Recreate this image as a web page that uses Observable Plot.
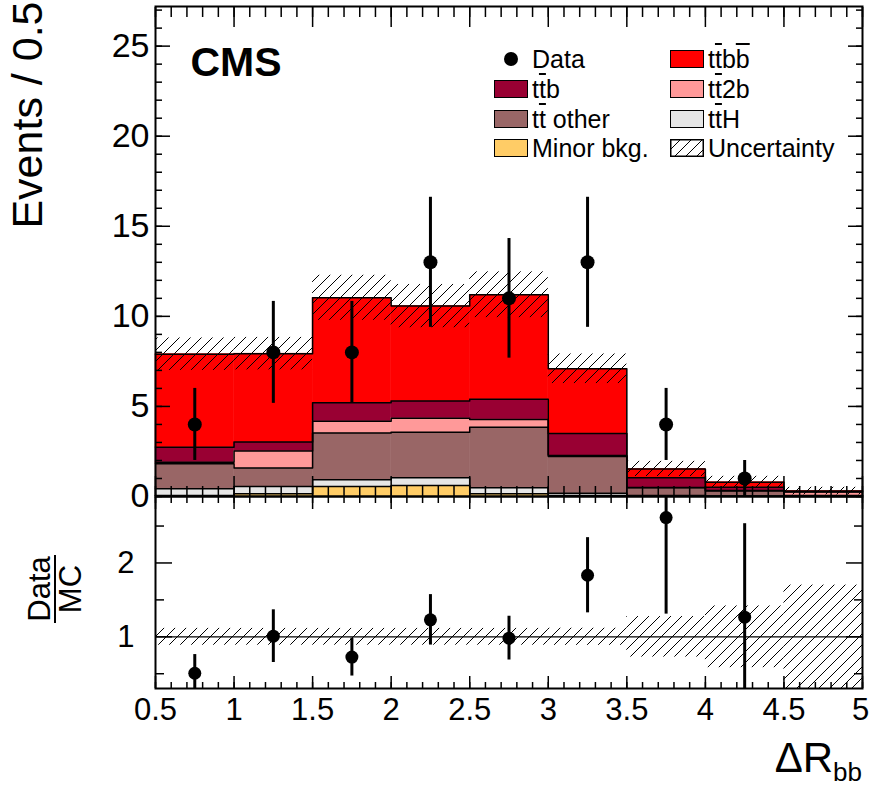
<!DOCTYPE html>
<html>
<head>
<meta charset="utf-8">
<script src="https://cdn.jsdelivr.net/npm/d3@7"></script>
<script src="https://cdn.jsdelivr.net/npm/@observablehq/plot@0.6"></script>
<style>
  body { margin: 0; background: #fff; font-family: "Liberation Sans", Arial, Helvetica, sans-serif; }
  #chart { position: relative; width: 869px; height: 791px; overflow: hidden; background: #fff; }
  #chart > svg { position: absolute; left: 0; }
  .lbl { position: absolute; white-space: nowrap; color: #000; }
  .ov { text-decoration: overline; text-decoration-thickness: 1.5px; }
  .legend-row { position: absolute; height: 28px; display: flex; align-items: center; font-size: 25px; white-space: nowrap; }
  .swatch { width: 34px; height: 18px; border: 1.5px solid #000; box-sizing: border-box; margin-right: 4px; }
</style>
</head>
<body>
<svg width="0" height="0" style="position:absolute">
  <defs>
    <pattern id="hatch" patternUnits="userSpaceOnUse" width="11" height="11">
      <path d="M-1,1 l2,-2 M0,11 l11,-11 M10,12 l2,-2" stroke="#000" stroke-width="1"/>
    </pattern>
  </defs>
</svg>
<div id="chart"></div>
<script>
// ΔR_bb bin edges (9 bins of width 0.5)
const edges = [0.5, 1, 1.5, 2, 2.5, 3, 3.5, 4, 4.5, 5];

// Expected events per bin for each process, stacked bottom to top
const minorBkg = [0.05, 0.15, 0.55, 0.61, 0.15, 0.05, 0.02, 0.01, 0.00];
const ttH      = [0.38, 0.40, 0.38, 0.43, 0.33, 0.13, 0.03, 0.02, 0.01];
const ttOther  = [1.39, 1.03, 2.60, 2.53, 3.37, 2.04, 0.43, 0.27, 0.04];
const tt2b     = [0.08, 0.94, 0.65, 0.78, 0.43, 0.05, 0.02, 0.03, 0.20];
const ttb      = [0.84, 0.50, 1.02, 0.95, 1.12, 1.23, 0.54, 0.19, 0.02];
const ttbb     = [5.16, 4.91, 5.83, 5.27, 5.80, 3.59, 0.49, 0.27, 0.03];

// Total uncertainty on the prediction (absolute, symmetric)
const uncertainty = [0.90, 0.90, 1.25, 1.20, 1.27, 0.82, 0.42, 0.33, 0.21];

// Observed data and its statistical error
const dataCounts = [4, 8, 8, 13, 11, 13, 4, 1, 0];
const dataErrors = [2, 2.83, 2.83, 3.61, 3.32, 3.61, 2, 1, 0];

const processNames = ["Minor bkg.", "ttH", "tt other", "tt2b", "ttb", "ttbb"];
const processValues = [minorBkg, ttH, ttOther, tt2b, ttb, ttbb];
const processColors = ["#ffcc66", "#e6e6e6", "#996666", "#ff9999", "#990033", "#ff0000"];

// Tick positions
const xMajor = [0.5, 1, 1.5, 2, 2.5, 3, 3.5, 4, 4.5, 5];
const xMinor = d3.range(5, 51).map(i => i / 10);
const yMajorTop = [0, 5, 10, 15, 20, 25];
const yMinorTop = d3.range(0, 28);
const yMajorRatio = [1, 2];
const yMinorRatio = [0.5, 1.5, 2.5];

// Build stacked rectangles and step outlines
const nBins = edges.length - 1;
const cumulative = processValues.map(() => new Array(nBins).fill(0));
const stackRows = [];
for (let i = 0; i < nBins; i++) {
  let base = 0;
  processValues.forEach((vals, j) => {
    const top = base + vals[i];
    stackRows.push({process: processNames[j], x1: edges[i], x2: edges[i + 1], y1: base, y2: top});
    cumulative[j][i] = top;
    base = top;
  });
}
const stepRows = [];
processNames.forEach((p, j) => {
  for (let i = 0; i <= nBins; i++) {
    stepRows.push({process: p, x: edges[i], y: cumulative[j][Math.min(i, nBins - 1)]});
  }
});
const totals = cumulative[cumulative.length - 1];
const bins = d3.range(nBins).map(i => ({
  x1: edges[i], x2: edges[i + 1], xc: (edges[i] + edges[i + 1]) / 2,
  total: totals[i], unc: uncertainty[i], rel: uncertainty[i] / totals[i],
  n: dataCounts[i], err: dataErrors[i]
}));
const points = bins.filter(d => d.n > 0);

const font = '"Liberation Sans", Arial, Helvetica, sans-serif';
const tickFont = 31;

function frameTicks(axis, anchor, ticks, size) {
  const f = axis === "x" ? Plot.axisX : Plot.axisY;
  return f({anchor, ticks, tickSize: -size, fill: "none", label: null, strokeWidth: 1.5});
}

const upper = Plot.plot({
  width: 869, height: 497,
  marginLeft: 155, marginRight: 7, marginTop: 6, marginBottom: 1,
  x: {domain: [0.5, 5], axis: null},
  y: {domain: [0, 27.2], axis: null},
  color: {domain: processNames, range: processColors},
  style: {background: "transparent", fontFamily: font, overflow: "visible"},
  marks: [
    Plot.rect(stackRows, {x1: "x1", x2: "x2", y1: "y1", y2: "y2", fill: "process", stroke: "process", strokeWidth: 0.5}),
    Plot.line(stepRows, {x: "x", y: "y", z: "process", curve: "step-after", stroke: "#000", strokeWidth: 1.5}),
    Plot.rect(bins, {x1: "x1", x2: "x2", y1: d => d.total - d.unc, y2: d => d.total + d.unc, fill: "url(#hatch)"}),
    Plot.ruleX(points, {x: "xc", y1: d => d.n - d.err, y2: d => d.n + d.err, stroke: "#000", strokeWidth: 3}),
    Plot.dot(points, {x: "xc", y: "n", r: 7, fill: "#000"}),
    frameTicks("x", "bottom", xMinor, 10),
    frameTicks("x", "bottom", xMajor, 20),
    frameTicks("x", "top", xMinor, 10),
    frameTicks("x", "top", xMajor, 20),
    frameTicks("y", "left", yMinorTop, 7),
    frameTicks("y", "left", yMajorTop, 15),
    frameTicks("y", "right", yMinorTop, 7),
    frameTicks("y", "right", yMajorTop, 15),
    Plot.axisY({anchor: "left", ticks: yMajorTop, tickSize: 0, tickPadding: 6, fontSize: 34, label: null, tickFormat: d => `${d}`}),
    Plot.frame({stroke: "#000", strokeWidth: 2}),
    Plot.text(["CMS"], {frameAnchor: "top-left", dx: 35, dy: 56, fontSize: 41, fontWeight: "bold", textAnchor: "start", lineAnchor: "middle"}),
    Plot.text(["Events / 0.5"], {frameAnchor: "top-left", rotate: -90, textAnchor: "end", lineAnchor: "middle", dx: -127, dy: -5, fontSize: 43})
  ]
});
upper.style.top = "0px";

const lower = Plot.plot({
  width: 869, height: 296,
  marginLeft: 155, marginRight: 7, marginTop: 1, marginBottom: 103,
  x: {domain: [0.5, 5], axis: null},
  y: {domain: [0.3, 2.9], axis: null},
  style: {background: "transparent", fontFamily: font, overflow: "visible"},
  marks: [
    Plot.rect(bins, {x1: "x1", x2: "x2", y1: d => 1 - d.rel, y2: d => 1 + d.rel, fill: "url(#hatch)", clip: true}),
    Plot.ruleY([1], {stroke: "#000", strokeWidth: 1.3}),
    Plot.ruleX(points, {x: "xc", y1: d => (d.n - d.err) / d.total, y2: d => (d.n + d.err) / d.total, stroke: "#000", strokeWidth: 3, clip: true}),
    Plot.dot(points, {x: "xc", y: d => d.n / d.total, r: 6.5, fill: "#000", clip: true}),
    frameTicks("x", "bottom", xMinor, 6),
    frameTicks("x", "bottom", xMajor, 12),
    frameTicks("x", "top", xMinor, 6),
    frameTicks("x", "top", xMajor, 12),
    frameTicks("y", "left", yMinorRatio, 9),
    frameTicks("y", "left", yMajorRatio, 17),
    frameTicks("y", "right", yMinorRatio, 9),
    frameTicks("y", "right", yMajorRatio, 17),
    Plot.axisY({anchor: "left", ticks: yMajorRatio, tickSize: 0, tickPadding: 21, fontSize: tickFont, label: null, tickFormat: d => `${d}`}),
    Plot.axisX({anchor: "bottom", ticks: xMajor.slice(0, -1), tickSize: 0, tickPadding: 9, fontSize: tickFont, label: null, tickFormat: d => `${d}`}),
    // last label nudged left so it stays inside the page
    Plot.axisX({anchor: "bottom", ticks: xMajor.slice(-1), tickSize: 0, tickPadding: 9, fontSize: tickFont, label: null, dx: -2, tickFormat: d => `${d}`}),
    Plot.frame({stroke: "#000", strokeWidth: 2})
  ]
});
lower.style.top = "495px";

const chart = document.getElementById("chart");
chart.appendChild(upper);
chart.appendChild(lower);

// Legend
const ov = s => `<span class="ov">${s}</span>`;
const legendItems = [
  {col: 0, row: 0, kind: "dot", html: "Data"},
  {col: 1, row: 0, kind: "box", color: processColors[5], html: `t${ov("t")}b${ov("b")}`},
  {col: 0, row: 1, kind: "box", color: processColors[4], html: `t${ov("t")}b`},
  {col: 1, row: 1, kind: "box", color: processColors[3], html: `t${ov("t")}2b`},
  {col: 0, row: 2, kind: "box", color: processColors[2], html: `t${ov("t")} other`},
  {col: 1, row: 2, kind: "box", color: processColors[1], html: `t${ov("t")}H`},
  {col: 0, row: 3, kind: "box", color: processColors[0], html: "Minor bkg."},
  {col: 1, row: 3, kind: "hatch", html: "Uncertainty"}
];
const colX = [494, 670];
const rowY = [59, 89, 119, 148];
legendItems.forEach(it => {
  const row = document.createElement("div");
  row.className = "legend-row";
  row.style.left = colX[it.col] + "px";
  row.style.top = (rowY[it.row] - 14) + "px";
  let sw;
  if (it.kind === "dot") {
    sw = `<div style="width:34px;height:18px;margin-right:4px;display:flex;justify-content:center;align-items:center"><div style="width:14px;height:14px;border-radius:50%;background:#000"></div></div>`;
  } else if (it.kind === "hatch") {
    sw = `<svg width="34" height="18" style="margin-right:4px;display:block"><rect x="0.75" y="0.75" width="32.5" height="16.5" fill="url(#hatch)" stroke="#000" stroke-width="1.5"/></svg>`;
  } else {
    sw = `<div class="swatch" style="background:${it.color}"></div>`;
  }
  row.innerHTML = sw + `<span>${it.html}</span>`;
  chart.appendChild(row);
});

// Ratio axis label
const ratioLabel = document.createElement("div");
ratioLabel.className = "lbl";
ratioLabel.style.cssText = "left:15px;top:559px;width:80px;height:60px;display:flex;justify-content:center;align-items:center;transform:rotate(-90deg);font-size:31px;";
ratioLabel.innerHTML = `<div style="text-align:center;display:inline-block"><div style="border-bottom:2px solid #000;line-height:29px;padding:0 1px">Data</div><div style="line-height:29px">MC</div></div>`;
chart.appendChild(ratioLabel);

// x axis title
const xTitle = document.createElement("div");
xTitle.className = "lbl";
xTitle.style.cssText = "right:7px;top:737px;font-size:42px;line-height:42px;";
xTitle.innerHTML = `ΔR<span style="font-size:26px;position:relative;top:9px">bb</span>`;
chart.appendChild(xTitle);
</script>
</body>
</html>
